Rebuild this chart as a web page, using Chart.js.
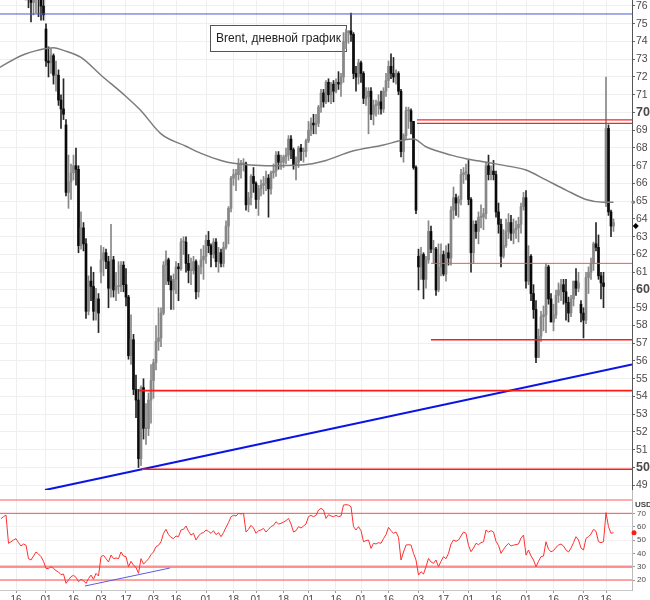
<!DOCTYPE html>
<html><head><meta charset="utf-8">
<script src="https://cdn.jsdelivr.net/npm/chart.js@4.4.1/dist/chart.umd.min.js"></script>
<style>
html,body{margin:0;padding:0;background:#fff;width:650px;height:600px;overflow:hidden;}
#wrap{position:relative;width:650px;height:600px;overflow:hidden;background:#fff;}
#main{position:absolute;left:0;top:0;z-index:2}
#rsi{position:absolute;left:0;top:490px;z-index:2}
#note{position:absolute;left:210px;top:25px;width:137px;height:27px;z-index:3;font:12px "Liberation Sans",Arial,sans-serif;color:#222;line-height:27px;text-align:center;}
#usd{position:absolute;left:635px;top:500px;font:bold 8px "Liberation Sans",Arial,sans-serif;color:#444;z-index:3}
</style></head>
<body><div id="wrap">
<canvas id="main" width="650" height="490"></canvas>
<canvas id="rsi" width="650" height="116"></canvas>
<div id="note">Brent, дневной график</div>
<div id="usd">USD</div>
</div>
<script>
// ---------- DATA ----------
// x = trading-day index (0 = 8 Oct 2018 ... 245 = 19 Sep 2019)
const tickIdx = [6,18,29,40,50,61,70,82,93,102,113,123,134,144,155,167,177,187,198,210,221,233,242];
const tickLabels = ['16','01','16','03','17','03','16','01','18','01','18','01','16','01','16','03','17','01','16','01','16','03','16'];
const priceTicks = [49,50,51,52,53,54,55,56,57,58,59,60,61,62,63,64,65,66,67,68,69,70,71,72,73,74,75,76];
const rsiTicks = [20,30,40,50,60,70];

const opens = [
 84.2,83.9,85.0,83.1,80.3,80.4,80.8,81.4,80.1,79.3,79.8,79.8,76.4,76.2,76.9,77.6,77.3,76.0,
 74.7,72.9,72.8,73.2,72.1,72.1,70.7,70.2,69.3,65.5,66.1,66.6,67.0,66.8,62.5,63.5,62.6,58.8,60.5,60.2,58.8,59.5,
 61.0,61.7,62.1,61.6,60.1,61.7,60.0,60.2,60.2,61.4,60.3,59.6,56.3,57.2,54.4,53.8,50.5,54.5,52.2,52.2,
 53.8,54.9,55.9,57.1,57.3,58.7,61.4,61.7,60.5,60.0,60.6,61.3,61.2,62.7,62.7,61.5,61.1,61.1,61.6,59.9,61.3,61.7,
 61.9,62.8,62.5,62.0,62.7,61.6,62.1,61.5,62.4,63.6,64.6,66.3,66.5,66.5,67.1,67.1,67.1,64.8,65.2,66.4,
 66.0,65.1,65.7,65.9,66.0,66.3,65.7,66.6,66.7,67.6,67.2,67.2,67.5,67.6,68.5,67.9,67.0,67.2,68.0,67.8,67.8,
 68.4,69.0,69.4,69.3,69.4,70.3,71.1,70.6,71.7,71.0,71.6,71.2,71.7,71.6,72.0,74.0,74.5,74.6,74.4,72.2,72.0,
 72.8,72.2,70.8,70.9,71.2,69.9,70.4,70.4,70.6,70.2,71.2,71.8,72.6,72.2,72.0,72.2,71.2,67.8,68.7,70.1,70.1,69.5,66.9,
 61.9,61.3,62.0,60.6,61.7,63.3,62.3,62.3,60.0,61.3,62.0,60.9,62.1,61.8,64.5,65.2,64.9,65.1,66.5,66.6,
 66.5,65.1,62.1,63.7,63.3,64.1,64.1,64.3,67.0,66.5,66.7,66.5,64.4,63.7,61.9,62.5,63.3,63.8,63.2,63.4,63.5,63.7,64.7,
 65.2,60.5,61.9,59.8,58.9,56.2,57.4,58.5,58.6,61.3,59.5,58.2,58.6,59.7,60.0,60.3,59.9,59.3,58.7,59.5,60.5,60.1,
 59.2,58.7,58.3,60.7,61.0,61.5,62.6,62.4,60.8,60.4,64.9,69.1,64.4,63.6];
const highs = [
 84.6,85.2,85.4,83.3,81.4,81.4,81.6,81.6,80.4,80.2,80.7,80.1,77.8,77.5,78.0,78.2,77.5,76.4,
 75.0,73.7,73.6,73.3,72.9,72.4,71.0,71.9,69.6,67.6,67.1,67.6,68.0,67.0,64.4,63.8,62.9,60.8,61.3,61.0,60.1,59.8,
 62.5,62.4,62.3,61.9,63.7,61.9,61.0,61.6,61.6,61.6,61.2,59.7,58.6,57.5,55.2,54.4,54.6,55.0,53.6,54.2,
 55.8,56.1,58.0,59.0,59.0,61.6,62.2,61.8,60.8,60.9,61.6,61.5,62.9,63.0,63.0,62.0,61.8,61.9,61.7,61.4,62.3,62.5,
 63.1,63.3,62.6,62.9,62.9,62.4,62.3,62.7,63.9,64.7,66.4,66.8,66.8,67.4,67.3,67.4,67.2,65.5,66.5,66.9,
 66.1,65.9,66.2,66.4,66.7,66.5,66.7,67.1,67.8,67.8,67.6,67.6,68.0,68.7,68.7,68.0,67.5,68.1,68.2,68.0,68.5,
 69.5,69.7,69.9,69.9,70.4,71.3,71.3,71.8,71.9,71.7,71.8,71.9,72.3,72.2,74.5,74.7,74.6,75.6,74.5,72.6,73.0,
 72.9,72.3,71.4,71.4,71.4,70.7,70.7,71.0,71.2,71.4,72.2,72.9,73.3,73.1,72.4,72.3,71.3,68.8,70.3,70.3,70.2,69.5,67.0,
 62.3,62.4,62.1,61.9,63.9,63.6,62.8,62.4,62.6,62.6,62.2,62.5,62.6,64.7,65.8,65.4,65.3,66.8,66.9,67.1,
 67.3,65.2,63.9,63.9,64.4,64.8,64.6,67.2,67.6,67.0,67.3,66.7,64.9,64.0,63.4,64.0,64.3,64.2,64.0,63.9,64.1,64.9,65.5,
 65.6,62.5,62.0,60.3,59.4,57.8,58.8,59.1,61.5,61.4,59.8,59.2,60.0,60.4,60.6,60.6,60.6,59.6,59.7,60.5,61.2,61.0,
 59.4,59.0,61.0,61.3,61.8,62.7,63.8,63.1,61.0,61.0,72.0,69.3,64.5,64.0];
const lows = [
 82.7,83.4,82.9,79.7,79.6,79.6,80.2,79.6,78.6,78.9,78.8,75.9,75.1,75.5,75.6,75.4,75.2,75.2,
 72.6,72.0,72.2,71.6,71.2,70.4,69.1,69.6,65.3,64.6,65.1,66.2,65.9,62.1,62.3,62.2,58.4,58.6,59.4,58.3,58.3,57.6,
 60.4,60.8,61.2,59.0,59.6,59.6,59.4,59.8,59.9,59.9,59.1,56.1,55.8,54.1,52.8,50.0,50.1,51.6,51.3,51.8,
 52.5,53.9,55.5,56.6,56.8,58.6,60.3,60.3,58.9,58.9,59.8,59.4,61.1,62.0,61.0,60.4,60.3,60.9,59.5,59.6,60.9,60.6,
 61.5,62.1,61.3,61.8,61.3,61.0,61.3,61.3,62.3,62.6,64.4,65.9,65.6,66.2,66.3,66.7,64.5,64.4,64.8,65.5,
 64.6,64.2,65.3,65.4,65.6,64.1,65.4,66.3,66.4,66.8,66.8,66.9,67.1,67.3,67.4,66.8,66.2,66.9,67.3,67.2,67.5,
 68.3,68.7,68.8,68.8,69.2,70.0,70.3,70.5,70.6,70.5,70.6,71.1,71.3,70.9,71.7,73.6,73.9,74.0,71.9,71.2,71.6,
 71.7,70.5,70.4,68.8,69.6,69.3,69.8,69.9,69.9,70.0,70.9,71.4,71.9,71.7,71.6,71.0,67.5,67.2,68.5,69.1,68.8,66.8,64.3,
 60.0,60.6,59.5,60.1,61.5,62.1,61.5,59.7,59.9,60.8,60.8,60.5,61.4,61.4,64.0,64.2,64.1,64.8,66.0,66.2,
 64.8,61.0,61.5,62.9,62.6,63.5,63.4,64.0,66.2,66.2,66.2,64.1,63.2,61.3,61.8,62.4,62.9,62.8,62.6,62.9,62.7,63.2,64.5,
 60.1,60.3,59.4,58.4,55.9,56.2,57.1,57.7,57.6,59.2,58.2,57.7,58.4,59.3,59.4,59.2,58.3,58.2,58.5,59.1,59.7,59.9,
 58.2,57.3,58.1,59.8,60.6,61.1,62.2,60.6,59.5,59.0,64.7,64.2,63.0,63.3];
const closes = [
 83.9,85.0,83.1,80.3,80.4,80.8,81.4,80.1,79.3,79.8,79.8,76.4,76.2,76.9,77.6,77.3,76.0,75.5,
 72.9,72.8,73.2,72.1,72.1,70.7,70.2,69.9,65.5,66.1,66.6,67.0,66.8,62.5,63.5,62.6,58.8,60.5,60.2,58.8,59.5,58.7,
 61.7,62.1,61.6,60.1,61.7,60.0,60.2,60.2,61.4,60.3,59.6,56.3,57.2,54.4,53.8,50.5,54.5,52.2,52.2,53.8,
 54.9,55.9,57.1,57.3,58.7,61.4,61.7,60.5,60.0,60.6,61.3,61.2,62.7,62.7,61.5,61.1,61.1,61.6,59.9,61.3,61.7,61.9,
 62.8,62.5,62.0,62.7,61.6,62.1,61.5,62.4,63.6,64.6,66.3,66.5,66.5,67.1,67.1,67.1,64.8,65.2,66.4,66.0,
 65.1,65.7,65.9,66.0,66.3,65.7,66.6,66.7,67.6,67.2,67.2,67.5,67.6,68.5,67.9,67.0,67.2,68.0,67.8,67.8,68.4,
 69.0,69.4,69.3,69.4,70.3,71.1,70.6,71.7,71.0,71.6,71.2,71.7,71.6,72.0,74.0,74.5,74.6,74.4,72.2,72.0,72.8,
 72.2,70.8,70.9,71.2,69.9,70.4,70.4,70.6,70.2,71.2,71.8,72.6,72.2,72.0,72.2,71.2,67.8,68.7,70.1,70.1,69.5,66.9,64.5,
 61.3,62.0,60.6,61.7,63.3,62.3,62.3,60.0,61.3,62.0,60.9,62.1,61.8,64.5,65.2,64.9,65.1,66.5,66.6,66.6,
 65.1,62.1,63.7,63.3,64.1,64.1,64.3,67.0,66.5,66.7,66.5,64.4,63.7,61.9,62.5,63.3,63.8,63.2,63.4,63.5,63.7,64.7,65.2,
 60.5,61.9,59.8,58.9,56.2,57.4,58.5,58.6,61.3,59.5,58.2,58.6,59.7,60.0,60.3,59.9,59.3,58.7,59.5,60.5,60.1,60.4,
 58.7,58.3,60.7,61.0,61.5,62.6,62.4,60.8,60.4,60.2,69.1,64.4,63.6,63.8];

// moving average read at sample points
const maIdx = [-0.4,8,16,21,25,32,40,50,56,64,74,80,88,93,106,120,130,140,153,161,165,170,180,186,194,204,210,218,226,234,241,245];
const maVal = [72.55,73.2,73.55,73.65,73.5,73.1,72.1,70.9,70.1,68.8,68.1,67.7,67.3,67.14,67.0,67.04,67.3,67.8,68.17,68.45,68.5,68.07,67.6,67.4,67.2,66.95,66.76,66.2,65.63,65.1,64.94,64.94];

const rsi = [
 66,67.5,68.7,47.5,48.7,50,51,48,45.5,47,
 46,36,35,38,41,39.5,37.5,34,28.7,28.5,
 30,28.7,27,26,24,24.5,17.5,20,22.5,23.5,
 22,18.7,20.5,19.5,17.5,21,23.7,20.5,25,23,
 37.5,38.5,36,33.5,38.7,36,36.5,36,41,38,
 37.5,30,34,31,29.5,25,36,32,33.7,36,
 39,41,45,46,48.7,55,58,54,52,51,
 53,52.5,57.5,58,60.5,56.5,53.7,55,50,53,
 55,55.5,57.5,56.5,55,57,54,55.5,52.5,55.5,
 59.5,63,67.5,68.5,68,70,69.5,70,56,58,
 61,59,55,57,57.5,58.7,56,58,60,61,
 63.7,62,62.5,63.5,64.5,66.2,62,56,57,60,
 59,60.5,62,67.5,68.5,67.5,68.5,72.5,73.7,72.5,
 66.2,69,68,67.5,68.5,67.5,68,76.2,76.5,76.2,
 75,60,57.5,60,57,48.7,49.5,50,43.7,47.5,
 47,48,47.5,51,54,59.5,57,55,56,52,
 35,41,46.2,46.5,46.2,40,35,23.7,26.2,24.5,
 30,36.2,33.5,32.5,35,30,34,37.5,36,40,
 47,50,49,50,53,56,55,46,41.2,44,
 47.5,46.5,48,48.7,57.5,56,57,56,49,46,
 40,43,45.5,47.5,45.5,46.2,46.5,47,51.5,53.7,
 38.7,42.5,38,35,30,34,37.5,38,48.7,43,
 41.2,42,44.5,46.2,47,45.5,42.5,41,44,48,
 52.5,50,44,42.5,51.2,52.5,54.5,58,56.5,48.7,
 48,48.7,70.5,60,55,55.5];

// horizontal levels (price) and the index where each starts
const peakLevel = 75.55;
const redLevels = [69.58, 69.39, 61.5, 57.2, 54.33, 49.9];
const redStart  = [166.4, 166.4, 172, 172, 55.2, 56.4];
const trendIdx = [17.6, 252.4];
const trendVal = [48.73, 55.8];
const rsiLevels = [80, 70, 30, 20];
const rsiTrendIdx = [33.6, 67.6];
const rsiTrendVal = [15.5, 29];
const lastPrice = 63.6, lastMA = 64.94, lastRSI = 55.5;

// ---------- STYLE / LAYOUT ----------
const X_MIN = -0.4, X_MAX = 252.4;
const FONT = '"Liberation Sans", Arial, sans-serif';
Chart.defaults.font.family = FONT;
const redStyle = [
  {c:'#ff2020', w:1.3}, {c:'#ff2020', w:1.3}, {c:'#ff5252', w:1},
  {c:'#ff1a1a', w:1.6}, {c:'#ff1a1a', w:1.6}, {c:'#ff1a1a', w:1.4}];
const rsiStyle = [
  {c:'rgba(255,110,110,0.75)', w:1.5}, {c:'#ff4d4d', w:1},
  {c:'rgba(255,110,110,0.75)', w:2.5}, {c:'#ff4d4d', w:1}];

const pts = (xs, ys) => xs.map((x, i) => ({x, y: ys[i]}));
const hline = (from, v) => [{x: from, y: v}, {x: X_MAX, y: v}];
const lineDs = (data, color, width, order) => ({
  type: 'line', data, borderColor: color, borderWidth: width, pointRadius: 0, pointHoverRadius: 0,
  fill: false, tension: 0, order});

const upBody = '#878787', downBody = '#0a0a0a', upWick = '#878787', downWick = '#262626';
const isUp = closes.map((c, i) => c >= opens[i]);

const mainDatasets = [];
mainDatasets.push(lineDs(hline(X_MIN, peakLevel), '#4c55d8', 1, 0));
redLevels.forEach((v, k) => mainDatasets.push(lineDs(hline(redStart[k], v), redStyle[k].c, redStyle[k].w, 0)));
mainDatasets.push(lineDs(pts(trendIdx, trendVal), '#0a14e6', 2, 0));
mainDatasets.push(Object.assign(lineDs(pts(maIdx, maVal), '#7c7c7c', 1.5, 1), {cubicInterpolationMode: 'monotone'}));
mainDatasets.push({type: 'bar', order: 2, grouped: false, barThickness: 2, minBarLength: 1,
  data: opens.map((o, i) => ({x: i, y: [o, closes[i]]})),
  backgroundColor: isUp.map(u => u ? upBody : downBody), borderWidth: 0});
mainDatasets.push({type: 'bar', order: 3, grouped: false, barThickness: 1,
  data: lows.map((l, i) => ({x: i, y: [l, highs[i]]})),
  backgroundColor: isUp.map(u => u ? upWick : downWick), borderWidth: 0});
mainDatasets.push({type: 'line', order: 0, clip: false, showLine: false,
  data: [{x: 252.9, y: lastMA}], pointRadius: 1.8, pointBackgroundColor: '#888', pointBorderWidth: 0});
mainDatasets.push({type: 'line', order: 0, clip: false, showLine: false,
  data: [{x: 253.9, y: lastPrice}], pointStyle: 'rectRot', pointRadius: 3, pointBackgroundColor: '#000', pointBorderWidth: 0});

// frame of the caption box: drawn above the grid, below the price bars
const noteFrame = {
  id: 'noteFrame',
  beforeDatasetsDraw(chart) {
    const c = chart.ctx;
    c.save();
    c.fillStyle = '#ffffff';
    c.fillRect(210.5, 25.5, 136, 26);
    c.strokeStyle = '#555555';
    c.lineWidth = 1;
    c.strokeRect(210.5, 25.5, 136, 26);
    c.restore();
  }
};

const xTicksSetter = s => { s.ticks = tickIdx.map(v => ({value: v})); };

new Chart(document.getElementById('main'), {
  type: 'line',
  data: {datasets: mainDatasets},
  plugins: [noteFrame],
  options: {
    responsive: false, animation: false, events: [],
    layout: {padding: 0, autoPadding: false},
    plugins: {legend: {display: false}, tooltip: {enabled: false}},
    scales: {
      x: {type: 'linear', min: X_MIN, max: X_MAX, offset: false,
        afterBuildTicks: xTicksSetter,
        ticks: {display: false},
        grid: {color: '#efefef', drawTicks: false, offset: false},
        border: {display: true, color: '#cfcfcf'},
        afterFit: s => { s.height = 0; s.paddingLeft = 0; s.paddingRight = 0; }},
      y: {position: 'right', min: 48.732, max: 76.338,
        afterBuildTicks: s => { s.ticks = priceTicks.map(v => ({value: v})); },
        ticks: {autoSkip: false, padding: 1, color: '#4a4a4a',
          callback: v => String(v),
          font: c => (c.tick && c.tick.value % 10 === 0) ? {family: FONT, size: 12.5, weight: 'bold'} : {family: FONT, size: 10.5}},
        grid: {color: '#efefef', tickLength: 3, tickColor: '#666'},
        border: {color: '#555'},
        afterFit: s => { s.width = 18; s.paddingTop = 0; s.paddingBottom = 0; }}
    }
  }
});

const rsiDatasets = [];
rsiLevels.forEach((v, k) => rsiDatasets.push(lineDs(hline(X_MIN, v), rsiStyle[k].c, rsiStyle[k].w, 1)));
rsiDatasets.push(lineDs(pts(rsiTrendIdx, rsiTrendVal), '#5b5be6', 1, 0));
rsiDatasets.push(lineDs(rsi.map((v, i) => ({x: i, y: v})), '#ff3030', 1, 0));
rsiDatasets.push({type: 'line', order: 0, clip: false, showLine: false,
  data: [{x: 253.2, y: lastRSI}], pointRadius: 2.5, pointBackgroundColor: '#ff1a1a', pointBorderWidth: 0});

new Chart(document.getElementById('rsi'), {
  type: 'line',
  data: {datasets: rsiDatasets},
  options: {
    responsive: false, animation: false, events: [],
    layout: {padding: 0, autoPadding: false},
    plugins: {legend: {display: false}, tooltip: {enabled: false}},
    scales: {
      x: {type: 'linear', min: X_MIN, max: X_MAX, offset: false,
        afterBuildTicks: xTicksSetter,
        ticks: {autoSkip: false, maxRotation: 0, padding: 1, color: '#4a4a4a', font: {size: 10},
          callback: v => { const k = tickIdx.indexOf(v); return k >= 0 ? tickLabels[k] : ''; }},
        grid: {color: '#efefef', tickLength: 3, tickColor: '#999', offset: false},
        border: {color: '#c8c8c8'},
        afterFit: s => { s.height = 16; s.paddingLeft = 0; s.paddingRight = 0; }},
      y: {position: 'right', min: 12.5, max: 87.5,
        afterBuildTicks: s => { s.ticks = rsiTicks.map(v => ({value: v})); },
        ticks: {autoSkip: false, padding: 2, color: '#4a4a4a', font: {size: 8}, callback: v => String(v)},
        grid: {color: '#f2f2f2', tickLength: 3, tickColor: '#999'},
        border: {color: '#bbbbbb'},
        afterFit: s => { s.width = 18; s.paddingTop = 0; s.paddingBottom = 0; }}
    }
  }
});
</script>
</body></html>
